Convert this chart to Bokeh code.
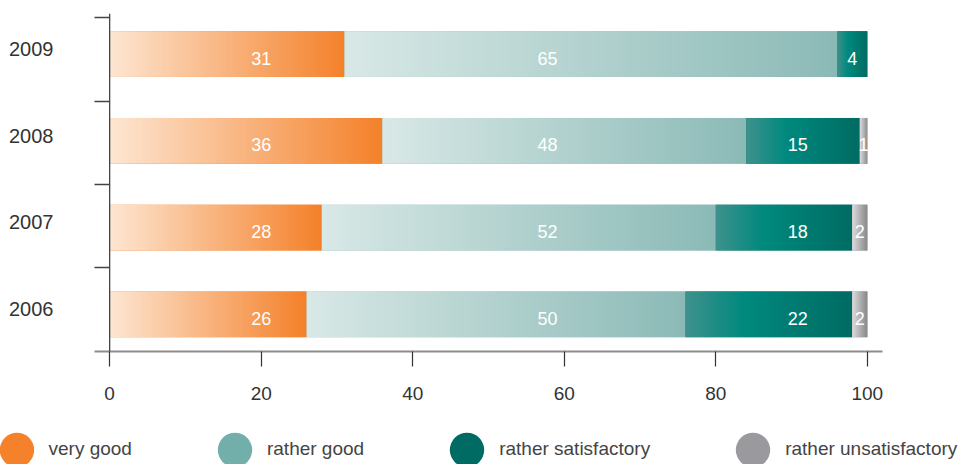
import numpy as np
from bokeh.plotting import figure
from bokeh.layouts import column
from bokeh.models import (ColumnDataSource, Range1d, FixedTicker, Span, Legend, LegendItem)
from bokeh.embed import file_html
from bokeh.resources import INLINE
from bokeh.core.properties import value

# ---- data ----
years = ["2006", "2007", "2008", "2009"]
series_names = ["very good", "rather good", "rather satisfactory", "rather unsatisfactory"]
very_good = [26, 28, 36, 31]
rather_good = [50, 52, 48, 65]
rather_satisfactory = [22, 18, 15, 4]
rather_unsatisfactory = [2, 2, 1, 0]
x_ticks = [0, 20, 40, 60, 80, 100]

series_values = [very_good, rather_good, rather_satisfactory, rather_unsatisfactory]

# ---- styles ----
FONT = "Liberation Sans"
TEXT_COLOR = "#333333"
legend_colors = ["#f5822a", "#72aeaa", "#006b62", "#9a9a9e"]
gradients = [
    [(0.0, "#fde6d2"), (1.0, "#f4812a")],
    [(0.0, "#d8e8e6"), (1.0, "#8bbab6")],
    [(0.0, "#3e918c"), (0.35, "#00897e"), (1.0, "#006b62")],
    [(0.0, "#dcdcde"), (1.0, "#87878a")],
]
label_x_fixed = [20.0, 57.8, 90.8, None]   # label column positions per series
BAR_H = 0.527
BAR_SHIFT = -0.059


def hex2rgb(h):
    h = h.lstrip("#")
    return [int(h[i:i + 2], 16) for i in (0, 2, 4)]


def gradient_image(stops, n=160):
    pos = np.array([s[0] for s in stops])
    cols = np.array([hex2rgb(s[1]) for s in stops], dtype=float)
    t = np.linspace(0, 1, n)
    img = np.zeros((1, n), dtype=np.uint32)
    view = img.view(dtype=np.uint8).reshape((1, n, 4))
    for c in range(3):
        view[0, :, c] = np.round(np.interp(t, pos, cols[:, c])).astype(np.uint8)
    view[0, :, 3] = 255
    return img


p = figure(width=964, height=410,
           x_range=Range1d(-2, 102), y_range=Range1d(-0.488, 3.409),
           min_border_left=94, min_border_right=82, min_border_top=13, min_border_bottom=59,
           toolbar_location=None, output_backend="svg")
p.outline_line_color = None
p.xgrid.visible = False
p.ygrid.visible = False
p.background_fill_color = "white"
p.border_fill_color = "white"
p.frame_align = False

# legend strip below the chart
lf = figure(width=964, height=54, x_range=Range1d(0, 1), y_range=Range1d(10, 11),
            min_border=0, toolbar_location=None, output_backend="svg",
            x_axis_type=None, y_axis_type=None)
lf.outline_line_color = None
lf.xgrid.visible = False
lf.ygrid.visible = False
lf.frame_align = False

y_idx = np.arange(len(years), dtype=float)
bar_y = y_idx + BAR_SHIFT

left = np.zeros(len(years))
legend_renderers = []
for k, vals in enumerate(series_values):
    vals = np.array(vals, dtype=float)
    right = left + vals
    img = gradient_image(gradients[k])
    src = ColumnDataSource(dict(
        left=left, right=right, y=bar_y, bottom=bar_y - BAR_H / 2, w=vals,
        mid=left + vals / 2, image=[img] * len(years)))
    p.hbar(y="y", left="left", right="right", height=BAR_H, source=src,
           fill_color=gradients[k][-1][1], line_color=None)
    p.image_rgba(image="image", x="left", y="bottom", dw="w", dh=BAR_H, source=src)
    # legend proxy: a circle-shaped ellipse (legend draws its own size)
    r = lf.ellipse(x="mid", y="y", width=0.01, height=0.01, width_units="screen",
                   height_units="screen", source=src,
                   fill_color=legend_colors[k], line_color=None)
    legend_renderers.append(r)

    # value labels
    lx, ly, lt = [], [], []
    for i, v in enumerate(vals):
        if v <= 0:
            continue
        fixed = label_x_fixed[k]
        cx = left[i] + v / 2
        lx.append(fixed if (fixed is not None and v >= 8) else cx)
        ly.append(bar_y[i])
        lt.append(str(int(v)))
    p.text(x=lx, y=ly, text=lt, text_color="white", text_font=value(FONT),
           text_font_size="18px", text_align="center", text_baseline="middle", y_offset=4)
    left = right

# y axis line at x = 0
p.add_layout(Span(location=0, dimension="height", line_color="#444444", line_width=1.3))

# x axis
xa = p.xaxis[0]
xa.ticker = FixedTicker(ticks=x_ticks)
xa.axis_line_color = "#8c8c8c"
xa.axis_line_width = 2
xa.major_tick_in = 0
xa.major_tick_out = 15
xa.major_tick_line_color = "#333333"
xa.major_tick_line_width = 1.2
xa.minor_tick_line_color = None
xa.major_label_text_font = FONT
xa.major_label_text_font_size = "19px"
xa.major_label_text_color = TEXT_COLOR
xa.major_label_standoff = 20

# y axis: labels at category centres, short ticks between
ya = p.yaxis[0]
ya.ticker = FixedTicker(ticks=list(range(len(years))), minor_ticks=[0.477, 1.438, 2.399, 3.360])
ya.major_label_overrides = {i: y for i, y in enumerate(years)}
ya.axis_line_color = None
ya.major_tick_line_color = None
ya.major_tick_in = 0
ya.major_tick_out = 0
ya.minor_tick_in = 15
ya.minor_tick_out = 0
ya.minor_tick_line_color = "#444444"
ya.minor_tick_line_width = 1.3
ya.major_label_text_font = FONT
ya.major_label_text_font_size = "20px"
ya.major_label_text_color = TEXT_COLOR
ya.major_label_standoff = 41

legend = Legend(items=[LegendItem(label=n, renderers=[r]) for n, r in zip(series_names, legend_renderers)],
                orientation="horizontal", location=(-5.5, -6.5),
                glyph_width=43, glyph_height=43, label_standoff=11, spacing=81,
                padding=0, margin=0, border_line_color=None, background_fill_alpha=0,
                label_text_font=FONT, label_text_font_size="19px", label_text_color="#444444")
lf.add_layout(legend)

layout = column(p, lf, spacing=0)
open("out.html", "w").write(file_html(layout, INLINE))
